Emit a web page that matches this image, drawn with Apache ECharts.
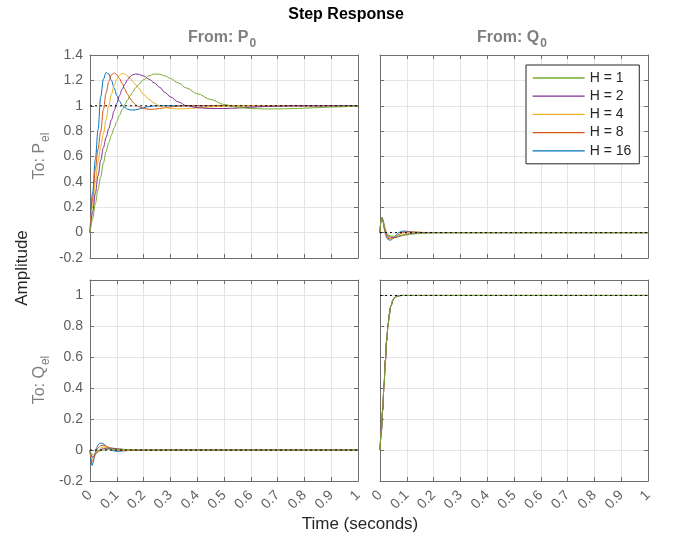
<!DOCTYPE html>
<html>
<head>
<meta charset="utf-8">
<script src="https://cdn.jsdelivr.net/npm/echarts@6/dist/echarts.min.js"></script>
<style>
html,body{margin:0;padding:0;background:#fff;}
#c{width:680px;height:541px;}
</style>
</head>
<body>
<div id="c"></div>
<script>
// ---------- DATA ----------
const seriesNames = ['H = 1', 'H = 2', 'H = 4', 'H = 8', 'H = 16'];
const xTicks = [0, 0.1, 0.2, 0.3, 0.4, 0.5, 0.6, 0.7, 0.8, 0.9, 1];

// From P0 -> To Pel
const tTL = [0,0.01,0.02,0.03,0.04,0.05,0.06,0.07,0.08,0.09,0.10,0.11,0.12,0.13,0.14,0.15,0.16,0.17,0.18,0.20,0.22,0.24,0.26,0.28,0.30,0.33,0.36,0.40,0.45,0.50,0.55,0.60,0.65,0.70,0.75,0.80,0.90,1.00];
const tlH1  = [0,0.11,0.23,0.34,0.44,0.55,0.64,0.71,0.77,0.825,0.875,0.925,0.97,1.01,1.045,1.08,1.11,1.14,1.165,1.205,1.235,1.25,1.248,1.235,1.215,1.18,1.14,1.095,1.05,1.01,0.988,0.978,0.975,0.975,0.977,0.981,0.99,0.997];
const tlH2  = [0,0.16,0.31,0.45,0.57,0.67,0.75,0.82,0.89,0.96,1.02,1.08,1.13,1.17,1.205,1.23,1.245,1.25,1.248,1.235,1.21,1.18,1.145,1.105,1.07,1.03,1.0,0.985,0.978,0.978,0.982,0.988,0.994,0.997,0.999,1.0,1.0,1.0];
const tlH4  = [0,0.21,0.40,0.56,0.68,0.78,0.89,1.0,1.09,1.16,1.21,1.24,1.255,1.25,1.235,1.215,1.19,1.165,1.14,1.09,1.05,1.02,0.998,0.985,0.978,0.975,0.977,0.983,0.991,0.996,0.999,1.0,1.0,1.0,1.0,1.0,1.0,1.0];
const tlH8  = [0,0.27,0.50,0.66,0.80,0.97,1.10,1.19,1.245,1.258,1.245,1.215,1.175,1.13,1.09,1.055,1.028,1.008,0.993,0.978,0.972,0.973,0.978,0.985,0.991,0.997,1.0,1.0,1.0,1.0,1.0,1.0,1.0,1.0,1.0,1.0,1.0,1.0];
const tlH16 = [0,0.32,0.58,0.81,1.07,1.21,1.262,1.25,1.20,1.14,1.08,1.035,1.005,0.985,0.973,0.967,0.966,0.968,0.973,0.985,0.994,0.999,1.0,1.0,1.0,1.0,1.0,1.0,1.0,1.0,1.0,1.0,1.0,1.0,1.0,1.0,1.0,1.0];

// From Q0 -> To Pel
const tTR = [0,0.004,0.008,0.012,0.016,0.02,0.025,0.03,0.04,0.05,0.06,0.07,0.08,0.09,0.1,0.12,0.14,0.16,0.2,0.25,0.3,1.0];
const trH1  = [0,0.1,0.115,0.092,0.055,0.02,-0.005,-0.018,-0.026,-0.029,-0.029,-0.027,-0.024,-0.021,-0.018,-0.012,-0.008,-0.005,-0.002,-0.001,0,0];
const trH2  = [0,0.1,0.116,0.09,0.05,0.015,-0.012,-0.027,-0.036,-0.038,-0.036,-0.031,-0.025,-0.019,-0.014,-0.006,-0.002,0,0.001,0.001,0,0];
const trH4  = [0,0.1,0.117,0.088,0.045,0.01,-0.02,-0.035,-0.043,-0.043,-0.037,-0.028,-0.018,-0.01,-0.004,0.002,0.003,0.002,0.001,0,0,0];
const trH8  = [0,0.1,0.118,0.085,0.04,0,-0.03,-0.045,-0.05,-0.045,-0.03,-0.015,-0.005,0.003,0.006,0.005,0.003,0.001,0,0,0,0];
const trH16 = [0,0.1,0.12,0.08,0.03,-0.01,-0.04,-0.055,-0.06,-0.045,-0.02,0,0.01,0.012,0.01,0.005,0.002,0,0,0,0,0];

// From P0 -> To Qel
const tBL = [0,0.004,0.008,0.012,0.016,0.02,0.025,0.03,0.04,0.05,0.06,0.07,0.08,0.09,0.1,0.12,0.14,0.16,0.2,0.25,0.3,1.0];
const blH1  = [0,-0.02,-0.03,-0.032,-0.029,-0.024,-0.018,-0.012,-0.004,0.001,0.004,0.005,0.006,0.006,0.006,0.005,0.003,0.002,0,-0.001,0,0];
const blH2  = [0,-0.03,-0.045,-0.045,-0.037,-0.027,-0.016,-0.008,0.003,0.009,0.012,0.013,0.012,0.011,0.009,0.005,0.002,0,-0.001,-0.001,0,0];
const blH4  = [0,-0.04,-0.058,-0.055,-0.04,-0.025,-0.01,0,0.013,0.019,0.02,0.018,0.014,0.01,0.006,0.001,-0.002,-0.002,-0.001,0,0,0];
const blH8  = [0,-0.05,-0.075,-0.065,-0.04,-0.02,0,0.015,0.028,0.03,0.025,0.018,0.01,0.004,0,-0.004,-0.003,-0.001,0,0,0,0];
const blH16 = [0,-0.07,-0.1,-0.08,-0.045,-0.015,0.015,0.035,0.045,0.04,0.025,0.01,0,-0.006,-0.008,-0.006,-0.003,-0.001,0,0,0,0];

// From Q0 -> To Qel
const tBR = [0,0.005,0.01,0.015,0.02,0.025,0.03,0.035,0.04,0.05,0.06,0.07,0.08,0.1,1.0];
const brH1  = [0,0.12,0.26,0.42,0.58,0.71,0.81,0.88,0.93,0.975,0.992,0.998,1.0,1.0,1.0];
const brH2  = [0,0.12,0.26,0.42,0.58,0.71,0.81,0.88,0.93,0.975,0.992,0.998,1.0,1.0,1.0];
const brH4  = [0,0.12,0.26,0.42,0.58,0.71,0.81,0.88,0.93,0.975,0.992,0.998,1.0,1.0,1.0];
const brH8  = [0,0.12,0.26,0.42,0.58,0.71,0.81,0.88,0.93,0.975,0.992,0.998,1.0,1.0,1.0];
const brH16 = [0,0.12,0.26,0.42,0.58,0.71,0.81,0.88,0.93,0.975,0.992,0.998,1.0,1.0,1.0];

// steady-state reference levels
const refX = [0, 1];
const refTL = [1, 1], refTR = [0, 0], refBL = [0, 0], refBR = [1, 1];

// ---------- STYLE ----------
const colors = {'H = 1':'#77AC30','H = 2':'#7E2F8E','H = 4':'#EDB120','H = 8':'#D95319','H = 16':'#0072BD'};
const FONT = 'Liberation Sans, Arial, Helvetica, sans-serif';
const axisCol = '#6e6e6e';
const tickCol = '#5f5f5f';
const gridCol = '#e5e5e5';

const grids = [
  {left:90, top:55, width:268, height:203},
  {left:380, top:55, width:268, height:203},
  {left:90, top:280, width:268, height:201},
  {left:380, top:280, width:268, height:201}
];
const yRanges = [[-0.2,1.4],[-0.2,1.4],[-0.2,1.1],[-0.2,1.1]];

const xAxes = [], yAxes = [];
for (let i = 0; i < 4; i++) {
  const bottomRow = i >= 2;
  xAxes.push({
    type:'value', gridIndex:i, min:0, max:1, interval:0.1, position:'bottom',
    axisLine:{show:true, onZero:false, lineStyle:{color:axisCol, width:1}},
    axisTick:{show:true, inside:true, length:4, lineStyle:{color:axisCol}},
    splitLine:{show:true, lineStyle:{color:gridCol, width:1}},
    axisLabel:{show:bottomRow, rotate:45, color:tickCol, fontFamily:FONT, fontSize:14, margin:12,
      formatter: v => { const k = xTicks.find(t => Math.abs(t - v) < 1e-9); return k === undefined ? '' : String(k); }}
  });
}
for (let i = 0; i < 4; i++) {
  xAxes.push({
    type:'value', gridIndex:i, min:0, max:1, interval:0.1, position:'top',
    axisLine:{show:true, onZero:false, lineStyle:{color:axisCol, width:1}},
    axisTick:{show:true, inside:true, length:4, lineStyle:{color:axisCol}},
    splitLine:{show:false}, axisLabel:{show:false}
  });
}
for (let i = 0; i < 4; i++) {
  const leftCol = (i % 2) === 0;
  yAxes.push({
    type:'value', gridIndex:i, min:yRanges[i][0], max:yRanges[i][1], interval:0.2, position:'left',
    axisLine:{show:true, onZero:false, lineStyle:{color:axisCol, width:1}},
    axisTick:{show:true, inside:true, length:4, lineStyle:{color:axisCol}},
    splitLine:{show:true, lineStyle:{color:gridCol, width:1}},
    axisLabel:{show:leftCol, color:tickCol, fontFamily:FONT, fontSize:14, margin:7, showMaxLabel: i < 2,
      formatter: v => String(Math.round(v * 10) / 10)}
  });
}
for (let i = 0; i < 4; i++) {
  yAxes.push({
    type:'value', gridIndex:i, min:yRanges[i][0], max:yRanges[i][1], interval:0.2, position:'right',
    axisLine:{show:true, onZero:false, lineStyle:{color:axisCol, width:1}},
    axisTick:{show:true, inside:true, length:4, lineStyle:{color:axisCol}},
    splitLine:{show:false}, axisLabel:{show:false}
  });
}

const zip = (t, v) => t.map((x, k) => [x, v[k]]);
const panels = [
  {t:tTL, d:{'H = 1':tlH1,'H = 2':tlH2,'H = 4':tlH4,'H = 8':tlH8,'H = 16':tlH16}, ref:refTL},
  {t:tTR, d:{'H = 1':trH1,'H = 2':trH2,'H = 4':trH4,'H = 8':trH8,'H = 16':trH16}, ref:refTR},
  {t:tBL, d:{'H = 1':blH1,'H = 2':blH2,'H = 4':blH4,'H = 8':blH8,'H = 16':blH16}, ref:refBL},
  {t:tBR, d:{'H = 1':brH1,'H = 2':brH2,'H = 4':brH4,'H = 8':brH8,'H = 16':brH16}, ref:refBR}
];
const drawOrder = ['H = 16','H = 8','H = 4','H = 2','H = 1'];
const series = [];
panels.forEach((p, i) => {
  drawOrder.forEach(name => {
    series.push({
      type:'line', name:name, xAxisIndex:i, yAxisIndex:i, data:zip(p.t, p.d[name]),
      symbol:'none', smooth:0.35, smoothMonotone:'x', clip:true,
      lineStyle:{color:colors[name], width:1}, itemStyle:{color:colors[name]},
      emphasis:{disabled:true}, silent:true, z:3
    });
  });
  series.push({
    type:'line', name:'ref', xAxisIndex:i, yAxisIndex:i, data:zip(refX, p.ref),
    symbol:'none', lineStyle:{color:'#000', width:1, type:[2,3]}, silent:true, z:4
  });
});

const option = {
  animation:false,
  backgroundColor:'#fff',
  grid: grids,
  xAxis: xAxes,
  yAxis: yAxes,
  legend: {
    data: seriesNames, orient:'vertical', left:526, top:65,
    itemWidth:52, itemHeight:14, itemGap:4.2, itemTextGap:5,
    itemStyle:{opacity:0, borderWidth:0}, lineStyle:{width:1.3, opacity:1},
    padding:[6,8,6,6], backgroundColor:'#fff', borderColor:'#262626', borderWidth:1, borderRadius:0,
    textStyle:{color:'#262626', fontFamily:FONT, fontSize:14},
    selectedMode:false
  },
  series: series,
  graphic: [
    {type:'text', x:346, y:15, style:{text:'Step Response', align:'center', verticalAlign:'middle', font:'bold 16px ' + FONT, fill:'#000'}},
    {type:'text', x:222, y:38, style:{text:'{a|From: P}{s|0}', align:'center', verticalAlign:'middle',
      rich:{a:{font:'bold 16px ' + FONT, fill:'#7f7f7f'}, s:{font:'bold 12px ' + FONT, fill:'#7f7f7f', padding:[11,0,0,1]}}}},
    {type:'text', x:512, y:38, style:{text:'{a|From: Q}{s|0}', align:'center', verticalAlign:'middle',
      rich:{a:{font:'bold 16px ' + FONT, fill:'#7f7f7f'}, s:{font:'bold 12px ' + FONT, fill:'#7f7f7f', padding:[11,0,0,1]}}}},
    {type:'text', x:40, y:156, rotation:Math.PI/2, style:{text:'{a|To: P}{s|el}', align:'center', verticalAlign:'middle',
      rich:{a:{font:'16px ' + FONT, fill:'#7f7f7f'}, s:{font:'12px ' + FONT, fill:'#7f7f7f', padding:[11,0,0,1]}}}},
    {type:'text', x:40, y:380, rotation:Math.PI/2, style:{text:'{a|To: Q}{s|el}', align:'center', verticalAlign:'middle',
      rich:{a:{font:'16px ' + FONT, fill:'#7f7f7f'}, s:{font:'12px ' + FONT, fill:'#7f7f7f', padding:[11,0,0,1]}}}},
    {type:'text', x:22, y:268, rotation:Math.PI/2, style:{text:'Amplitude', align:'center', verticalAlign:'middle', font:'17px ' + FONT, fill:'#262626'}},
    {type:'text', x:360, y:524, style:{text:'Time (seconds)', align:'center', verticalAlign:'middle', font:'17px ' + FONT, fill:'#262626'}}
  ]
};
const chart = echarts.init(document.getElementById('c'), null, {renderer:'canvas'});
chart.setOption(option);
</script>
</body>
</html>
